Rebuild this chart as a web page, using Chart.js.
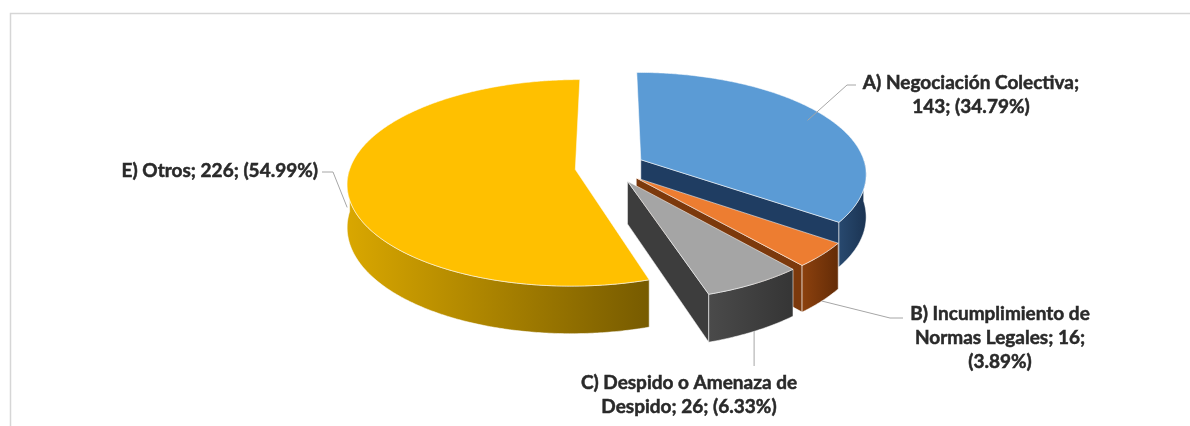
<!DOCTYPE html>
<html>
<head>
<meta charset="utf-8">
<script src="https://cdn.jsdelivr.net/npm/chart.js@4.4.1/dist/chart.umd.min.js"></script>
<style>
  html, body { margin: 0; padding: 0; background: #fff; }
  #wrap { position: relative; width: 1190px; height: 426px; }
</style>
</head>
<body>
<div id="wrap"><canvas id="pieChart"></canvas></div>
<script>
const categories = ['A) Negociación Colectiva', 'B) Incumplimiento de Normas Legales', 'C) Despido o Amenaza de Despido', 'E) Otros'];
const counts = [143, 16, 26, 226];

const topColors = ['#5b9bd5', '#ed7d31', '#a5a5a5', '#ffc000'];
const wallLight = ['#28496f', '#8c410e', '#4a4a4a', '#d9a700'];
const wallDark = ['#1b3453', '#642c07', '#353535', '#775b00'];
const faceColors = ['#1f3d62', '#7c390c', '#3d3d3d', '#a07a00'];

// 3d look
const TILT = 0.456, PERSP = 0.13, DEPTH = 42;

// label boxes: wrap width, anchor of text, leader elbow
const labelBox = [
  { x: 971, y: 83, wrap: 228, align: 'center', leader: [[856, 85], [847, 85]], f: 0.9, z: 0 },
  { x: 1000, y: 314, wrap: 192, align: 'center', leader: [[903, 318], [890, 318]], f: 1, z: 1 },
  { x: 689, y: 383, wrap: 228, align: 'center', leader: null, f: 1, z: 1 },
  { x: 318, y: 171, wrap: 400, align: 'right', leader: [[322, 172], [333, 172]], f: 1, z: 0.5 }
];

const total = counts.reduce((a, b) => a + b, 0);

function projector(arc) {
  const R = arc.outerRadius;
  const m = (arc.startAngle + arc.endAngle) / 2;
  const off = arc.options.offset || 0;
  const ou = Math.cos(m) * off, ov = Math.sin(m) * off;
  return function (ang, f, z) {
    const u = ou + Math.cos(ang) * R * f;
    const v = ov + Math.sin(ang) * R * f;
    const s = 1 + PERSP * v / R;
    return [arc.x + u * s, arc.y + v * TILT * s + z * s];
  };
}

function rim(P, from, to, z) {
  const pts = [];
  const n = Math.max(2, Math.ceil(Math.abs(to - from) / 0.01));
  for (let k = 0; k <= n; k++) pts.push(P(from + (to - from) * k / n, 1, z));
  return pts;
}

function fillPoly(ctx, pts, fill) {
  ctx.beginPath();
  pts.forEach((p, k) => k ? ctx.lineTo(p[0], p[1]) : ctx.moveTo(p[0], p[1]));
  ctx.closePath();
  ctx.fillStyle = fill;
  ctx.fill();
  ctx.strokeStyle = 'rgba(255,255,255,0.55)';
  ctx.lineWidth = 1;
  ctx.stroke();
}

function drawSlice(ctx, arc, i) {
  const P = projector(arc);
  const a0 = arc.startAngle, a1 = arc.endAngle;

  // radial faces that look to the front
  [[a0, a0 - Math.PI / 2], [a1, a1 + Math.PI / 2]].forEach(([a, n]) => {
    if (Math.sin(n) > 0.02) {
      fillPoly(ctx, [P(0, 0, 0), P(a, 1, 0), P(a, 1, DEPTH), P(0, 0, DEPTH)], faceColors[i]);
    }
  });

  // outer wall, front half only
  const lo = Math.max(a0, 0), hi = Math.min(a1, Math.PI);
  if (lo < hi) {
    const top = rim(P, lo, hi, 0);
    const bot = rim(P, hi, lo, DEPTH);
    const xs = top.map(p => p[0]);
    const g = ctx.createLinearGradient(Math.min(...xs), 0, Math.max(...xs), 0);
    g.addColorStop(0, wallLight[i]);
    g.addColorStop(1, wallDark[i]);
    fillPoly(ctx, top.concat(bot), g);
  }

  // top surface
  fillPoly(ctx, [P(0, 0, 0)].concat(rim(P, a0, a1, 0)), topColors[i]);
}

function wrapText(ctx, text, width) {
  const words = text.split(' ');
  const lines = [];
  let line = '';
  words.forEach(w => {
    const test = line ? line + ' ' + w : w;
    if (line && ctx.measureText(test).width > width) {
      lines.push(line);
      line = w;
    } else {
      line = test;
    }
  });
  lines.push(line);
  return lines;
}

const pie3d = {
  id: 'pie3d',
  beforeDraw(chart) {
    const ctx = chart.ctx;
    ctx.save();
    ctx.strokeStyle = '#d6d6d6';
    ctx.lineWidth = 1.5;
    ctx.beginPath();
    ctx.moveTo(10.5, 426);
    ctx.lineTo(10.5, 13.5);
    ctx.lineTo(1190, 13.5);
    ctx.stroke();
    ctx.restore();
  },
  beforeDatasetsDraw(chart) {
    const ctx = chart.ctx;
    const arcs = chart.getDatasetMeta(0).data;
    const mid = a => Math.sin((a.startAngle + a.endAngle) / 2);
    const order = arcs.map((a, i) => i).sort((i, j) => mid(arcs[i]) - mid(arcs[j]));
    ctx.save();
    ctx.lineJoin = 'round';
    order.forEach(i => drawSlice(ctx, arcs[i], i));
    ctx.restore();
    return false;
  },
  afterDraw(chart) {
    const ctx = chart.ctx;
    const arcs = chart.getDatasetMeta(0).data;
    ctx.save();
    ctx.font = 'bold 19px Lato';
    ctx.fillStyle = '#2a2a2a';
    ctx.strokeStyle = '#2a2a2a';
    ctx.lineWidth = 0.5;
    ctx.textBaseline = 'middle';
    arcs.forEach((arc, i) => {
      const box = labelBox[i];
      const pct = (counts[i] / total * 100).toFixed(2);
      const text = categories[i] + '; ' + counts[i] + '; (' + pct + '%)';
      const lines = wrapText(ctx, text, box.wrap);
      ctx.textAlign = box.align;
      lines.forEach((ln, k) => {
        ctx.fillText(ln, box.x, box.y + k * 24);
        ctx.strokeText(ln, box.x, box.y + k * 24);
      });
    });

    // leader lines
    ctx.strokeStyle = '#a6a6a6';
    ctx.lineWidth = 1;
    arcs.forEach((arc, i) => {
      const box = labelBox[i];
      const P = projector(arc);
      const m = (arc.startAngle + arc.endAngle) / 2;
      const anchor = P(m, box.f, box.z * DEPTH);
      const pts = box.leader ? box.leader.concat([anchor]) : [[anchor[0], 366], anchor];
      ctx.beginPath();
      pts.forEach((p, k) => k ? ctx.lineTo(p[0], p[1]) : ctx.moveTo(p[0], p[1]));
      ctx.stroke();
    });
    ctx.restore();
  }
};

new Chart(document.getElementById('pieChart'), {
  type: 'pie',
  data: {
    labels: categories,
    datasets: [{
      data: counts,
      backgroundColor: topColors,
      offset: 35,
      radius: 225,
      borderWidth: 0
    }]
  },
  options: {
    responsive: true,
    maintainAspectRatio: false,
    animation: false,
    events: [],
    layout: { padding: { left: 30, right: 0, top: 0, bottom: 92 } },
    plugins: {
      legend: { display: false },
      tooltip: { enabled: false }
    }
  },
  plugins: [pie3d]
});
</script>
</body>
</html>
